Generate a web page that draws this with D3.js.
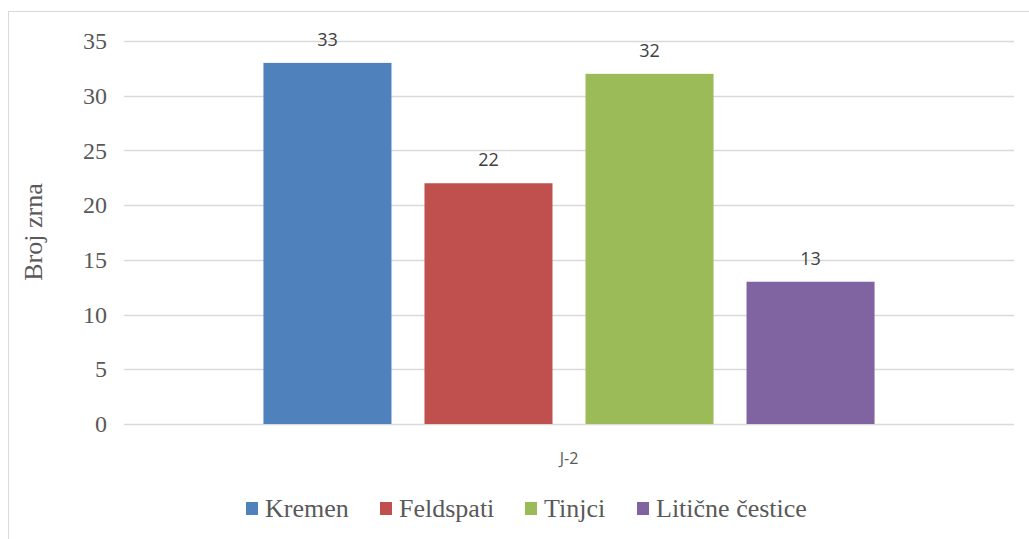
<!DOCTYPE html>
<html>
<head>
<meta charset="utf-8">
<script src="https://cdn.jsdelivr.net/npm/d3@7"></script>
<style>
  body { margin: 0; background: #fff; }
  svg { display: block; }
</style>
</head>
<body>
<div id="chart"></div>
<script>
// data
var categories = ["J-2"];
var seriesNames = ["Kremen", "Feldspati", "Tinjci", "Litične čestice"];
var seriesValues = [33, 22, 32, 13];
var seriesColors = ["#4F81BD", "#C0504D", "#9BBB59", "#8064A2"];
var yTicks = [0, 5, 10, 15, 20, 25, 30, 35];

var width = 1029, height = 539;
var plotLeft = 124, plotRight = 1014, plotTop = 41, plotBottom = 424;

var svg = d3.select("#chart").append("svg")
    .attr("width", width)
    .attr("height", height);

// chart frame (right and bottom edges run out of the picture)
svg.append("rect")
    .attr("x", 8.5).attr("y", 11.5)
    .attr("width", 1040).attr("height", 560)
    .attr("fill", "none")
    .attr("stroke", "#D9D9D9")
    .attr("stroke-width", 1);

var yScale = d3.scaleLinear().domain([0, 35]).range([plotBottom, plotTop]);
var xScale = d3.scaleBand().domain(categories).range([plotLeft, plotRight]);
var inner = d3.scaleBand().domain(seriesNames)
    .range([0, xScale.bandwidth()])
    .paddingInner(0.205)
    .paddingOuter(0.866);

// gridlines
svg.append("g")
    .selectAll("line")
    .data(yTicks).enter()
    .append("line")
    .attr("x1", plotLeft).attr("x2", plotRight)
    .attr("y1", d => Math.round(yScale(d)) + 0.5)
    .attr("y2", d => Math.round(yScale(d)) + 0.5)
    .attr("stroke", "#D9D9D9")
    .attr("stroke-width", 1.5);

// y axis labels
var yAxis = d3.axisLeft(yScale).tickValues(yTicks).tickSize(0).tickPadding(0);
var yg = svg.append("g")
    .attr("transform", `translate(${plotLeft - 17}, 0)`)
    .call(yAxis);
yg.select(".domain").remove();
yg.selectAll("text")
    .attr("fill", "#595959")
    .style("font-family", "'Liberation Serif', 'Times New Roman', serif")
    .style("font-size", "24px");

// bars
var group = svg.append("g")
    .selectAll("g")
    .data(categories).enter()
    .append("g")
    .attr("transform", d => `translate(${xScale(d)}, 0)`);

group.selectAll("rect")
    .data(seriesNames.map((n, i) => ({ name: n, value: seriesValues[i], color: seriesColors[i] })))
    .enter()
    .append("rect")
    .attr("x", d => inner(d.name))
    .attr("y", d => yScale(d.value))
    .attr("width", inner.bandwidth())
    .attr("height", d => yScale(0) - yScale(d.value))
    .attr("fill", d => d.color);

// data labels
group.selectAll("text.value")
    .data(seriesNames.map((n, i) => ({ name: n, value: seriesValues[i] })))
    .enter()
    .append("text")
    .attr("class", "value")
    .attr("x", d => inner(d.name) + inner.bandwidth() / 2)
    .attr("y", d => yScale(d.value) - 17)
    .attr("text-anchor", "middle")
    .attr("fill", "#404040")
    .style("font-family", "'Open Sans', 'Liberation Sans', sans-serif")
    .style("font-size", "18px")
    .text(d => d.value);

// category label
var xAxis = d3.axisBottom(xScale).tickSize(0).tickPadding(0);
var xg = svg.append("g")
    .attr("transform", `translate(0, ${plotBottom + 40})`)
    .call(xAxis);
xg.select(".domain").remove();
xg.selectAll("text")
    .attr("fill", "#595959")
    .attr("dy", 0)
    .style("font-family", "'Open Sans', 'Liberation Sans', sans-serif")
    .style("font-size", "16px");

// y axis title
svg.append("text")
    .attr("transform", "translate(42, 232) rotate(-90)")
    .attr("text-anchor", "middle")
    .attr("fill", "#595959")
    .style("font-family", "'Liberation Serif', 'Times New Roman', serif")
    .style("font-size", "26px")
    .text("Broj zrna");

// legend
var legendX = [246, 380, 525, 637];
var legend = svg.append("g")
    .selectAll("g")
    .data(seriesNames).enter()
    .append("g")
    .attr("transform", (d, i) => `translate(${legendX[i]}, 502)`);

legend.append("rect")
    .attr("width", 12).attr("height", 13)
    .attr("fill", (d, i) => seriesColors[i]);

legend.append("text")
    .attr("x", 19)
    .attr("y", 15)
    .attr("fill", "#595959")
    .style("font-family", "'Liberation Serif', 'Times New Roman', serif")
    .style("font-size", "26px")
    .text(d => d);
</script>
</body>
</html>
